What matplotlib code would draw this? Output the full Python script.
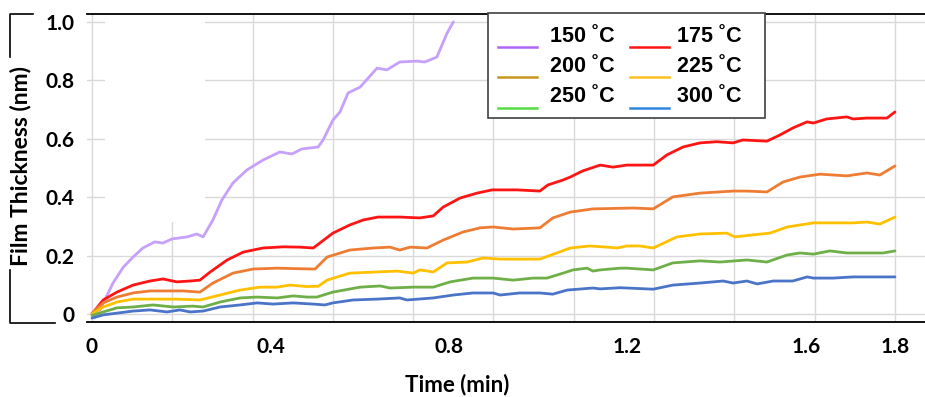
import matplotlib
matplotlib.use('Agg')
import matplotlib.pyplot as plt
from matplotlib.lines import Line2D
from matplotlib.patches import Rectangle
import numpy as np

# film thickness (nm) vs time (min), one series per temperature
t_150 = [0, 0.018, 0.047, 0.07, 0.092, 0.114, 0.141, 0.159, 0.179, 0.213, 0.235, 0.249, 0.271, 0.291,
         0.316, 0.347, 0.383, 0.421, 0.448, 0.47, 0.507, 0.518, 0.54, 0.556, 0.574, 0.601, 0.639, 0.661,
         0.69, 0.728, 0.746, 0.773, 0.796, 0.81]
y_150 = [0.003, 0.014, 0.106, 0.16, 0.195, 0.226, 0.247, 0.243, 0.257, 0.264, 0.274, 0.264, 0.322, 0.39,
         0.449, 0.493, 0.527, 0.555, 0.548, 0.565, 0.572, 0.596, 0.664, 0.692, 0.757, 0.777, 0.842, 0.836,
         0.863, 0.866, 0.863, 0.88, 0.962, 1.0]

t_175 = [0, 0.025, 0.056, 0.092, 0.13, 0.159, 0.19, 0.22, 0.242, 0.265, 0.303, 0.339, 0.383, 0.428, 0.466,
         0.496, 0.54, 0.578, 0.608, 0.641, 0.69, 0.735, 0.765, 0.787, 0.825, 0.863, 0.897, 0.953, 1.004,
         1.022, 1.056, 1.072, 1.1, 1.139, 1.168, 1.199, 1.228, 1.258, 1.289, 1.325, 1.363, 1.4, 1.437, 1.459,
         1.513, 1.542, 1.571, 1.603, 1.617, 1.647, 1.692, 1.706, 1.737, 1.782, 1.8]
y_175 = [0, 0.048, 0.075, 0.099, 0.113, 0.12, 0.11, 0.113, 0.116, 0.144, 0.185, 0.212, 0.226, 0.23, 0.229,
         0.226, 0.277, 0.305, 0.322, 0.332, 0.332, 0.329, 0.336, 0.366, 0.397, 0.414, 0.425, 0.425, 0.421,
         0.442, 0.459, 0.469, 0.49, 0.51, 0.503, 0.51, 0.51, 0.51, 0.545, 0.572, 0.586, 0.59, 0.586, 0.596,
         0.592, 0.613, 0.637, 0.658, 0.654, 0.668, 0.675, 0.668, 0.671, 0.671, 0.692]

t_200 = [0, 0.025, 0.056, 0.092, 0.13, 0.168, 0.204, 0.242, 0.271, 0.316, 0.361, 0.415, 0.466, 0.5, 0.527,
         0.578, 0.63, 0.668, 0.69, 0.713, 0.751, 0.787, 0.832, 0.87, 0.899, 0.944, 1.004, 1.033, 1.072,
         1.123, 1.184, 1.213, 1.258, 1.302, 1.363, 1.437, 1.468, 1.513, 1.549, 1.587, 1.632, 1.692, 1.737,
         1.766, 1.8]
y_200 = [0.003, 0.038, 0.058, 0.072, 0.079, 0.079, 0.079, 0.075, 0.106, 0.14, 0.154, 0.157, 0.155, 0.154,
         0.195, 0.219, 0.226, 0.229, 0.219, 0.229, 0.226, 0.253, 0.281, 0.295, 0.298, 0.291, 0.295, 0.329,
         0.349, 0.36, 0.362, 0.363, 0.36, 0.401, 0.414, 0.421, 0.421, 0.418, 0.452, 0.469, 0.479, 0.473,
         0.483, 0.476, 0.507]

t_225 = [0, 0.025, 0.056, 0.092, 0.146, 0.19, 0.242, 0.287, 0.332, 0.377, 0.415, 0.444, 0.482, 0.507,
         0.527, 0.578, 0.639, 0.684, 0.72, 0.735, 0.765, 0.796, 0.841, 0.877, 0.915, 0.959, 1.004, 1.042,
         1.072, 1.116, 1.154, 1.177, 1.199, 1.228, 1.258, 1.311, 1.363, 1.423, 1.441, 1.475, 1.52, 1.558,
         1.617, 1.661, 1.706, 1.737, 1.766, 1.8]
y_225 = [0, 0.024, 0.041, 0.051, 0.051, 0.051, 0.048, 0.065, 0.082, 0.092, 0.092, 0.099, 0.094, 0.095,
         0.116, 0.14, 0.144, 0.147, 0.14, 0.151, 0.144, 0.175, 0.178, 0.192, 0.188, 0.188, 0.188, 0.209,
         0.226, 0.233, 0.229, 0.226, 0.233, 0.233, 0.226, 0.264, 0.274, 0.277, 0.264, 0.27, 0.277, 0.298,
         0.312, 0.312, 0.312, 0.315, 0.308, 0.332]

t_250 = [0, 0.025, 0.056, 0.092, 0.137, 0.182, 0.226, 0.249, 0.287, 0.332, 0.37, 0.415, 0.451, 0.482,
         0.504, 0.54, 0.601, 0.646, 0.668, 0.72, 0.765, 0.803, 0.854, 0.899, 0.944, 0.989, 1.02, 1.056,
         1.078, 1.11, 1.123, 1.139, 1.184, 1.199, 1.258, 1.302, 1.363, 1.408, 1.468, 1.513, 1.558, 1.587,
         1.617, 1.654, 1.692, 1.737, 1.773, 1.8]
y_250 = [-0.005, 0.007, 0.021, 0.024, 0.031, 0.024, 0.027, 0.024, 0.041, 0.055, 0.058, 0.055, 0.062, 0.058,
         0.058, 0.075, 0.092, 0.096, 0.089, 0.092, 0.092, 0.11, 0.123, 0.123, 0.116, 0.123, 0.123, 0.14,
         0.151, 0.157, 0.147, 0.151, 0.157, 0.157, 0.151, 0.175, 0.182, 0.178, 0.185, 0.178, 0.202, 0.209,
         0.205, 0.216, 0.209, 0.209, 0.209, 0.216]

t_300 = [0, 0.025, 0.056, 0.092, 0.13, 0.168, 0.197, 0.22, 0.249, 0.287, 0.332, 0.37, 0.406, 0.451, 0.496,
         0.522, 0.54, 0.585, 0.639, 0.69, 0.706, 0.765, 0.81, 0.854, 0.899, 0.915, 0.959, 1.004, 1.033,
         1.065, 1.123, 1.139, 1.184, 1.199, 1.258, 1.302, 1.363, 1.415, 1.437, 1.468, 1.491, 1.527, 1.571,
         1.603, 1.617, 1.661, 1.706, 1.751, 1.8]
y_300 = [-0.014, -0.003, 0.003, 0.01, 0.014, 0.007, 0.014, 0.007, 0.01, 0.024, 0.031, 0.038, 0.034, 0.038,
         0.034, 0.031, 0.038, 0.048, 0.051, 0.055, 0.048, 0.055, 0.065, 0.072, 0.072, 0.065, 0.072, 0.072,
         0.068, 0.082, 0.089, 0.086, 0.09, 0.089, 0.085, 0.099, 0.106, 0.113, 0.106, 0.113, 0.103, 0.113,
         0.113, 0.127, 0.123, 0.123, 0.127, 0.127, 0.127]

labels = ['150 ˚C', '175 ˚C', '200 ˚C', '225 ˚C', '250 ˚C', '300 ˚C']
line_colors = ['#c6a0fa', '#ff1414', '#ee7d33', '#ffc000', '#6faf48', '#4a74c8']
key_colors = ['#b266f5', '#ff1414', '#c8961e', '#ffc020', '#55dd44', '#2e86de']

x_labels = ['0', '0.4', '0.8', '1.2', '1.6', '1.8']
x_ticks = [0, 0.4, 0.8, 1.2, 1.6, 1.8]
y_ticks = [0, 0.2, 0.4, 0.6, 0.8, 1.0]
y_labels = ['0', '0.2', '0.4', '0.6', '0.8', '1.0']

W, H = 925, 397
fig = plt.figure(figsize=(W / 100, H / 100), dpi=100)
ax = fig.add_axes([87 / W, 75 / H, 1 - 87 / W, (322 - 14) / H])

tick_font = {'family': 'Lato', 'weight': 'bold', 'size': 15}

ax.set_xlim(-5 / 446.1, 833 / 446.1)
ax.set_ylim(-8 / 292, 1 + 8 / 292)

# grid: vertical lines every 0.18, horizontal every 0.2
for gx in np.linspace(0, 1.8, 11):
    ax.axvline(gx, color='#d9d9d9', lw=1.0, zorder=0.5)
for gy in y_ticks:
    ax.axhline(gy, color='#d9d9d9', lw=1.0, zorder=0.5)

# blank patch hiding part of the grid, as in the source image
ax.add_patch(Rectangle((0.029, 0.315), 0.224, 0.72, facecolor='white', edgecolor='none', zorder=1))

series = [(t_150, y_150), (t_175, y_175), (t_200, y_200), (t_225, y_225), (t_250, y_250), (t_300, y_300)]
for (t, y), c in zip(series, line_colors):
    ax.plot(t, y, color=c, lw=2.0, zorder=2, solid_capstyle='round', solid_joinstyle='round')

ax.set_xticks(x_ticks)
ax.set_xticklabels(x_labels, fontdict=tick_font)
ax.set_yticks(y_ticks)
ax.set_yticklabels(y_labels, fontdict=tick_font)
ax.tick_params(axis='x', length=0, pad=11)
ax.tick_params(axis='y', length=0, pad=9)
ax.get_xticklabels()[0].set_x(-0.015)

for s in ['left', 'right']:
    ax.spines[s].set_visible(False)
for s in ['top', 'bottom']:
    ax.spines[s].set_color('black')
    ax.spines[s].set_linewidth(1.3)
    ax.spines[s].set_zorder(3)

fig.text(457 / W, 1 - 385 / H, 'Time (min)', ha='center', va='center',
         family='Lato', weight='bold', size=16)
fig.text(21 / W, 1 - 166 / H, 'Film Thickness (nm)', ha='center', va='center', rotation=90,
         family='Lato', weight='bold', size=16.5)

# bracket marks at left
def px_line(xs, ys):
    fig.add_artist(Line2D([x / W for x in xs], [1 - y / H for y in ys], color='black', lw=1.2))

px_line([33, 10, 10], [14, 14, 57])
px_line([10, 10, 55], [270, 323, 323])

# legend box
fig.add_artist(Rectangle((488 / W, 1 - 118 / H), 277 / W, 105 / H, transform=fig.transFigure,
                         facecolor='white', edgecolor='#404040', lw=1.2, zorder=5))
rows = [47, 77, 108]
for i, (lab, kc) in enumerate(zip(labels, key_colors)):
    r, col = i // 2, i % 2
    hx = [498, 537] if col == 0 else [630, 669]
    tx = 550 if col == 0 else 677
    fig.add_artist(Line2D([hx[0] / W, hx[1] / W], [1 - rows[r] / H] * 2, color=kc, lw=1.8, zorder=6))
    fig.text(tx / W, 1 - (rows[r] - 11) / H, lab, ha='left', va='center',
             family='Liberation Sans', weight='bold', size=15.5, zorder=6)

fig.savefig('out.png', dpi=100)
